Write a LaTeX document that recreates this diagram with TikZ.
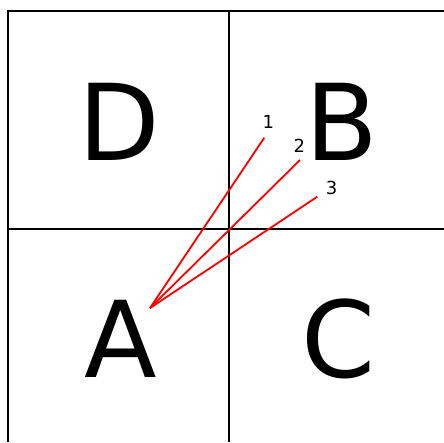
\documentclass[tikz,border=0pt]{standalone}
\usepackage{fontspec}
\setmainfont{DejaVu Sans}
\begin{document}
\begin{tikzpicture}[x=1pt,y=-1pt,
  grid/.style={line width=2pt,black},
  ray/.style={line width=1.8pt,red},
  big/.style={inner sep=0pt,font=\fontsize{106}{106}\selectfont},
  num/.style={inner sep=0pt,font=\fontsize{18}{18}\selectfont}]
\useasboundingbox (0,0) rectangle (444,442);
\coordinate (tl) at (8,10.5);
\coordinate (tr) at (444,10.5);
\coordinate (bl) at (8,442);
\coordinate (mt) at (229,10.5);
\coordinate (mb) at (229,442);
\coordinate (ml) at (8,229);
\coordinate (mr) at (444,229);
\draw[grid] (bl) -- (tl) -- (tr);
\draw[grid] (mt) -- (mb);
\draw[grid] (ml) -- (mr);
\node[big] (D) at (119,121.5) {D};
\node[big] (B) at (342,121.5) {B};
\node[big] (A) at (121,338.5) {A};
\node[big] (C) at (339,338.5) {C};
\coordinate (o) at (150,308);
\coordinate (p1) at (264.3,137.7);
\coordinate (p2) at (300,160);
\coordinate (p3) at (317.3,196.7);
\draw[ray] (o) -- (p1);
\draw[ray] (o) -- (p2);
\draw[ray] (o) -- (p3);
\node[num] (n1) at (268.3,121.7) {1};
\node[num] (n2) at (299.3,146) {2};
\node[num] (n3) at (331.5,188) {3};
\end{tikzpicture}
\end{document}
